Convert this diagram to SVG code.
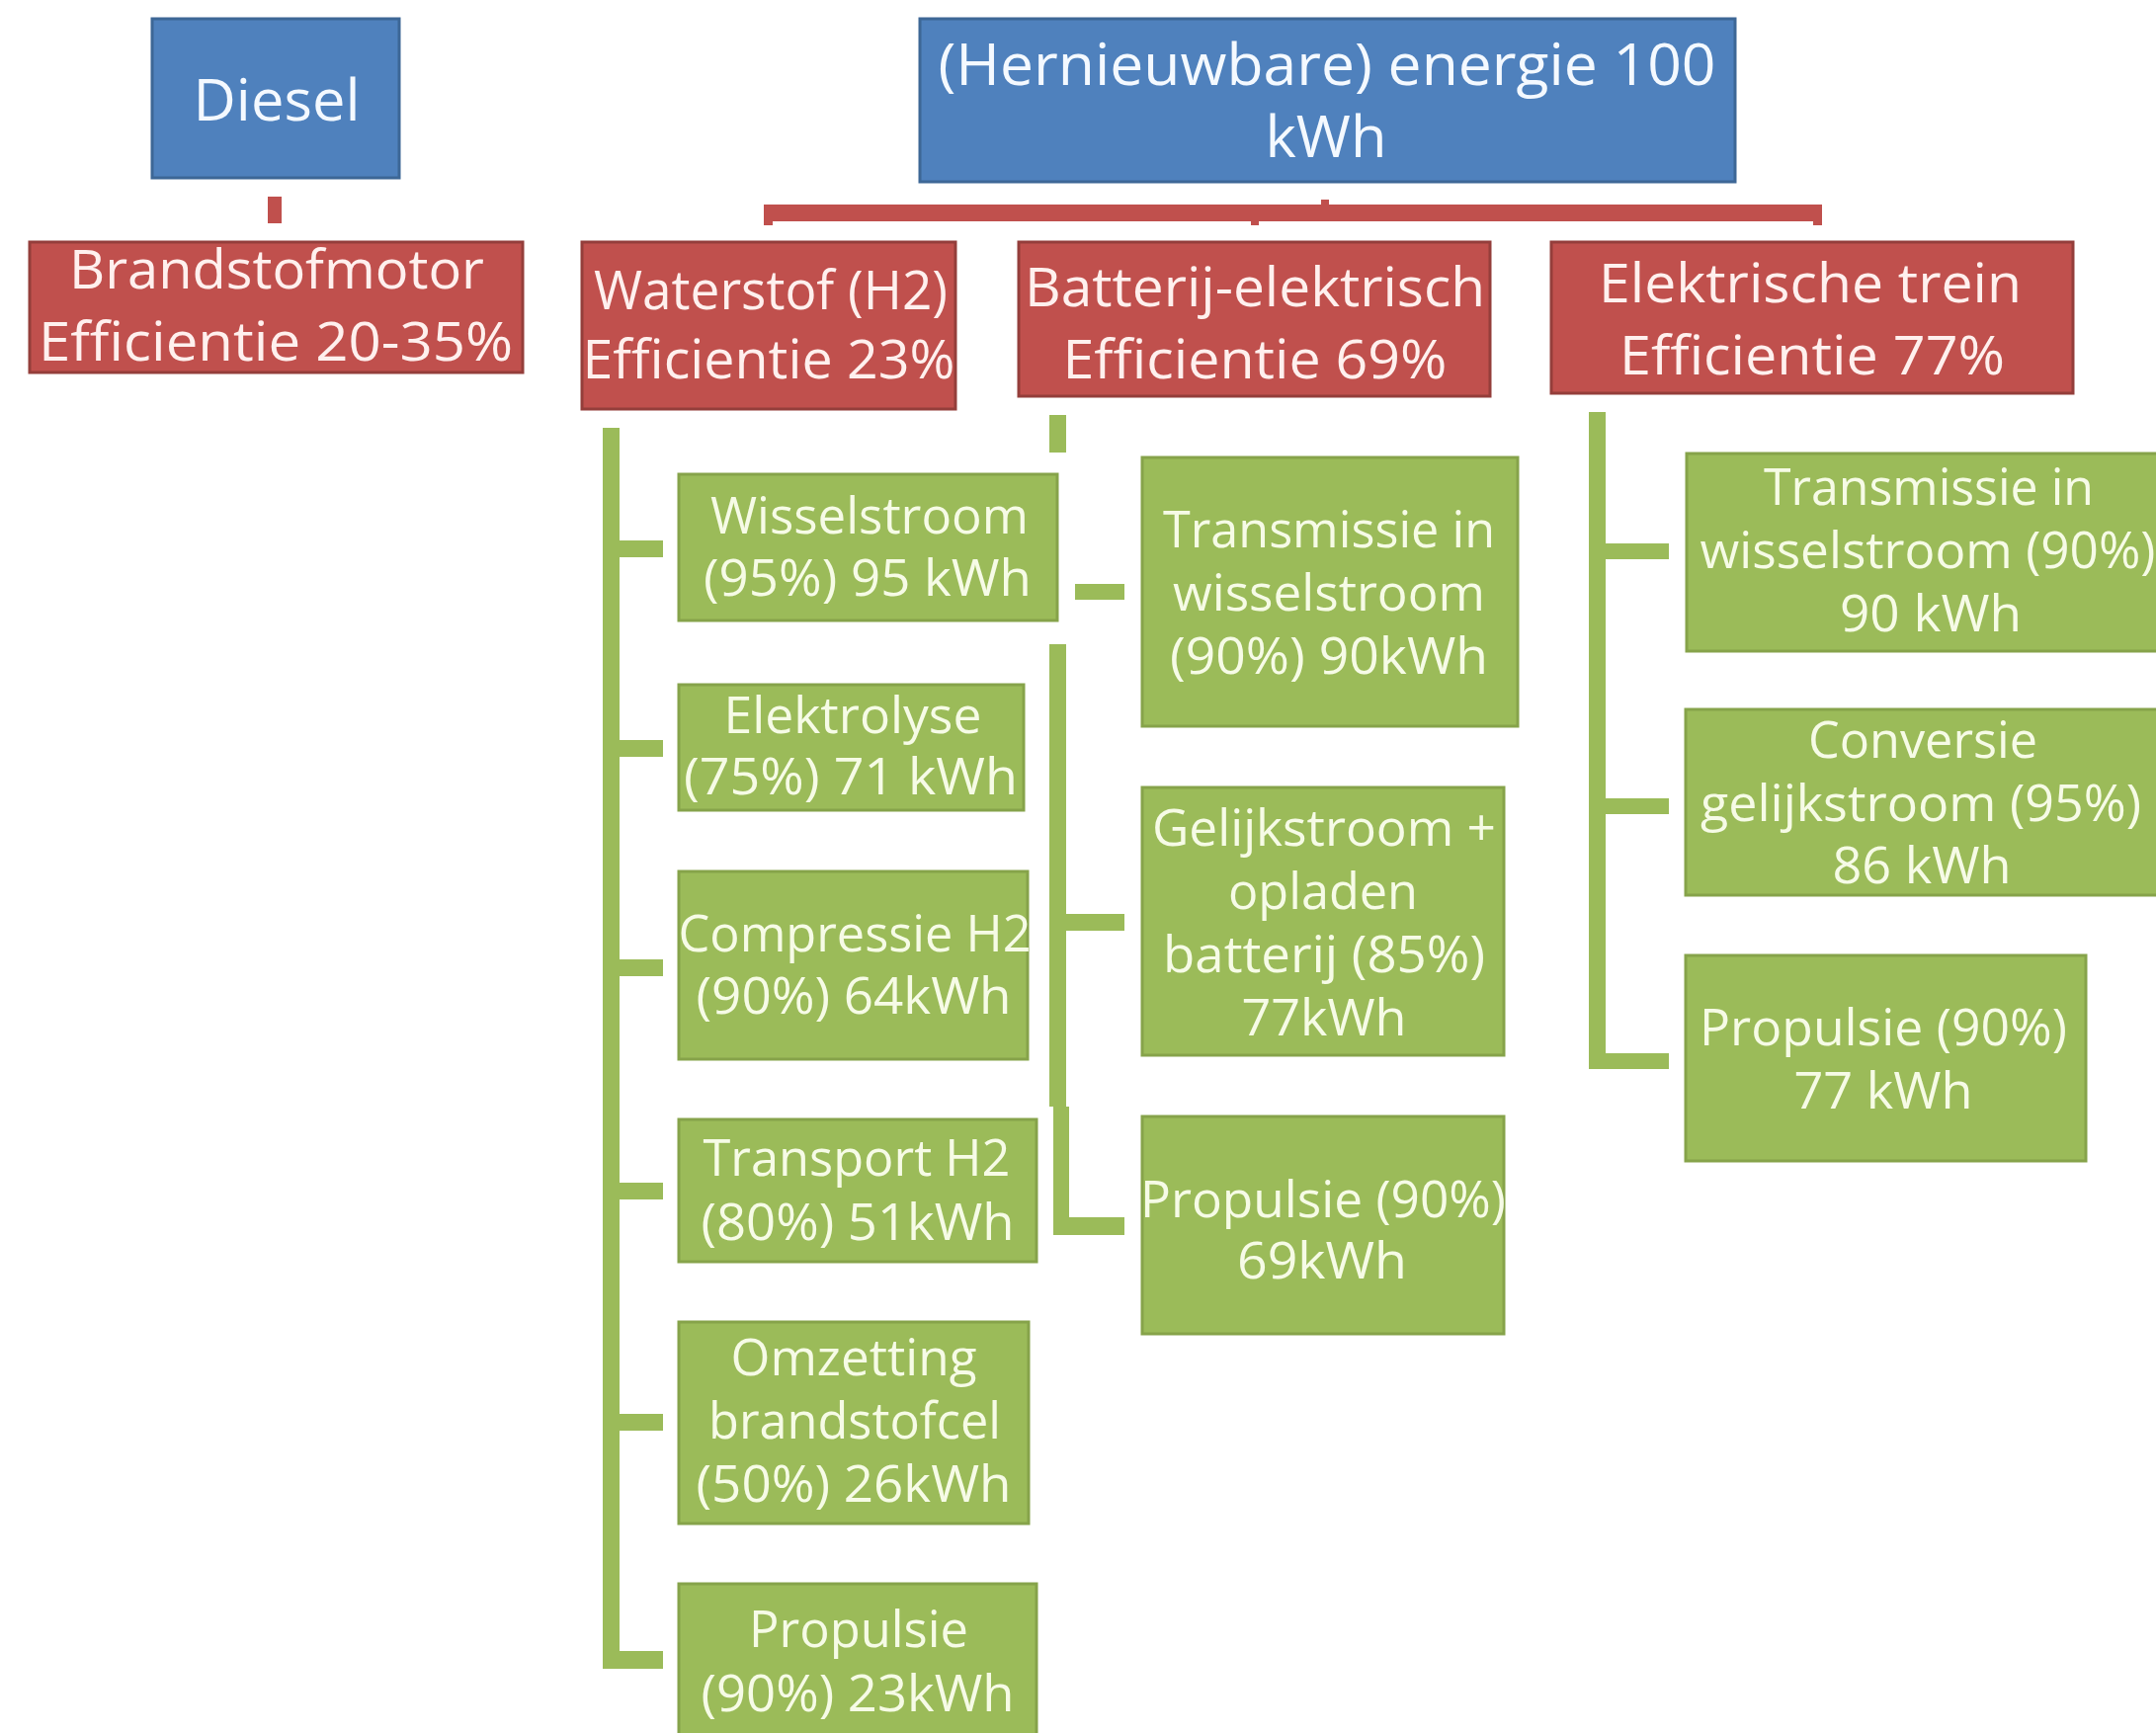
<svg xmlns="http://www.w3.org/2000/svg" width="2182" height="1754" viewBox="0 0 2182 1754">
<style>
.blue{fill:#4F81BD;stroke:#3D6796;stroke-width:3}
.red{fill:#C0504D;stroke:#943E3B;stroke-width:3}
.green{fill:#9BBB59;stroke:#86A34A;stroke-width:3}
.cg{fill:#9BBB59}
.cr{fill:#C0504D}
text{font-family:"Open Sans","Liberation Sans",sans-serif;text-anchor:middle}
.tb{font-size:58px;fill:#F4F9FF}
.tr{font-size:55px;fill:#FFF0EE}
.tg{font-size:52px;fill:#F6FBE6}
</style>
<rect width="2182" height="1754" fill="#FFFFFF"/>
<g id="connectors">
<rect class="cr" x="271" y="199" width="14" height="27"/>
<rect class="cr" x="773" y="207" width="1071" height="17" rx="3"/>
<rect class="cr" x="773" y="207" width="9" height="21"/>
<rect class="cr" x="1835" y="207" width="9" height="21"/>
<rect class="cr" x="1337" y="202" width="8" height="6"/>
<rect class="cr" x="1266" y="223" width="8" height="5"/>
<rect class="cg" x="610" y="433" width="17" height="1256"/>
<rect class="cg" x="627" y="547" width="44" height="17"/>
<rect class="cg" x="627" y="749" width="44" height="17"/>
<rect class="cg" x="627" y="971" width="44" height="17"/>
<rect class="cg" x="627" y="1197" width="44" height="17"/>
<rect class="cg" x="627" y="1431" width="44" height="17"/>
<rect class="cg" x="610" y="1671" width="61" height="18"/>
<rect class="cg" x="1062" y="420" width="17" height="38"/>
<rect class="cg" x="1088" y="591" width="50" height="16"/>
<path class="cg" d="M1062 652 H1079 V1120 H1082 V1232 H1138 V1250 H1066 V1120 H1062 Z"/>
<rect class="cg" x="1079" y="925" width="59" height="17"/>
<rect class="cg" x="1608" y="417" width="17" height="665"/>
<rect class="cg" x="1625" y="550" width="64" height="16"/>
<rect class="cg" x="1625" y="808" width="64" height="16"/>
<rect class="cg" x="1608" y="1066" width="81" height="16"/>
</g>
<g id="diesel">
<rect class="blue" x="154" y="19" width="250" height="161"/>
<text class="tb" x="280" y="122" textLength="169" lengthAdjust="spacingAndGlyphs">Diesel</text>
</g>
<g id="hernieuwbare">
<rect class="blue" x="931" y="19" width="825" height="165"/>
<text class="tb" x="1343" y="86" textLength="787" lengthAdjust="spacingAndGlyphs">(Hernieuwbare) energie 100</text>
<text class="tb" x="1342" y="159" textLength="123" lengthAdjust="spacingAndGlyphs">kWh</text>
</g>
<g id="brandstofmotor">
<rect class="red" x="30" y="245" width="499" height="132"/>
<text class="tr" x="280" y="292" textLength="420" lengthAdjust="spacingAndGlyphs">Brandstofmotor</text>
<text class="tr" x="279" y="365" textLength="480" lengthAdjust="spacingAndGlyphs">Efficientie 20-35%</text>
</g>
<g id="waterstof">
<rect class="red" x="589" y="245" width="378" height="169"/>
<text class="tr" x="780" y="313" textLength="358" lengthAdjust="spacingAndGlyphs">Waterstof (H2)</text>
<text class="tr" x="778" y="383" textLength="377" lengthAdjust="spacingAndGlyphs">Efficientie 23%</text>
</g>
<g id="batterij">
<rect class="red" x="1031" y="245" width="477" height="156"/>
<text class="tr" x="1270" y="310" textLength="466" lengthAdjust="spacingAndGlyphs">Batterij-elektrisch</text>
<text class="tr" x="1270" y="383" textLength="389" lengthAdjust="spacingAndGlyphs">Efficientie 69%</text>
</g>
<g id="trein">
<rect class="red" x="1570" y="245" width="528" height="153"/>
<text class="tr" x="1832" y="306" textLength="428" lengthAdjust="spacingAndGlyphs">Elektrische trein</text>
<text class="tr" x="1834" y="379" textLength="390" lengthAdjust="spacingAndGlyphs">Efficientie 77%</text>
</g>
<g id="h2-wisselstroom">
<rect class="green" x="687" y="480" width="383" height="148"/>
<text class="tg" x="880" y="540" textLength="322" lengthAdjust="spacingAndGlyphs">Wisselstroom</text>
<text class="tg" x="878" y="603" textLength="332" lengthAdjust="spacingAndGlyphs">(95%) 95 kWh</text>
</g>
<g id="h2-elektrolyse">
<rect class="green" x="687" y="693" width="349" height="127"/>
<text class="tg" x="863" y="742" textLength="261" lengthAdjust="spacingAndGlyphs">Elektrolyse</text>
<text class="tg" x="861" y="804" textLength="338" lengthAdjust="spacingAndGlyphs">(75%) 71 kWh</text>
</g>
<g id="h2-compressie">
<rect class="green" x="687" y="882" width="353" height="190"/>
<text class="tg" x="865" y="963" textLength="357" lengthAdjust="spacingAndGlyphs">Compressie H2</text>
<text class="tg" x="864" y="1026" textLength="319" lengthAdjust="spacingAndGlyphs">(90%) 64kWh</text>
</g>
<g id="h2-transport">
<rect class="green" x="687" y="1133" width="362" height="144"/>
<text class="tg" x="867" y="1190" textLength="311" lengthAdjust="spacingAndGlyphs">Transport H2</text>
<text class="tg" x="868" y="1255" textLength="317" lengthAdjust="spacingAndGlyphs">(80%) 51kWh</text>
</g>
<g id="h2-omzetting">
<rect class="green" x="687" y="1338" width="354" height="204"/>
<text class="tg" x="864" y="1392" textLength="249" lengthAdjust="spacingAndGlyphs">Omzetting</text>
<text class="tg" x="865" y="1456" textLength="296" lengthAdjust="spacingAndGlyphs">brandstofcel</text>
<text class="tg" x="864" y="1520" textLength="319" lengthAdjust="spacingAndGlyphs">(50%) 26kWh</text>
</g>
<g id="h2-propulsie">
<rect class="green" x="687" y="1603" width="362" height="160"/>
<text class="tg" x="869" y="1667" textLength="222" lengthAdjust="spacingAndGlyphs">Propulsie</text>
<text class="tg" x="868" y="1732" textLength="317" lengthAdjust="spacingAndGlyphs">(90%) 23kWh</text>
</g>
<g id="bat-transmissie">
<rect class="green" x="1156" y="463" width="380" height="272"/>
<text class="tg" x="1345" y="554" textLength="336" lengthAdjust="spacingAndGlyphs">Transmissie in</text>
<text class="tg" x="1345" y="618" textLength="316" lengthAdjust="spacingAndGlyphs">wisselstroom</text>
<text class="tg" x="1345" y="682" textLength="322" lengthAdjust="spacingAndGlyphs">(90%) 90kWh</text>
</g>
<g id="bat-gelijkstroom">
<rect class="green" x="1156" y="797" width="366" height="271"/>
<text class="tg" x="1340" y="856" textLength="348" lengthAdjust="spacingAndGlyphs">Gelijkstroom +</text>
<text class="tg" x="1339" y="920" textLength="192" lengthAdjust="spacingAndGlyphs">opladen</text>
<text class="tg" x="1340" y="984" textLength="326" lengthAdjust="spacingAndGlyphs">batterij (85%)</text>
<text class="tg" x="1340" y="1048" textLength="167" lengthAdjust="spacingAndGlyphs">77kWh</text>
</g>
<g id="bat-propulsie">
<rect class="green" x="1156" y="1130" width="366" height="220"/>
<text class="tg" x="1339" y="1232" textLength="370" lengthAdjust="spacingAndGlyphs">Propulsie (90%)</text>
<text class="tg" x="1338" y="1294" textLength="172" lengthAdjust="spacingAndGlyphs">69kWh</text>
</g>
<g id="trein-transmissie">
<rect class="green" x="1707" y="459" width="490" height="200"/>
<text class="tg" x="1952" y="511" textLength="334" lengthAdjust="spacingAndGlyphs">Transmissie in</text>
<text class="tg" x="1951" y="575" textLength="461" lengthAdjust="spacingAndGlyphs">wisselstroom (90%)</text>
<text class="tg" x="1954" y="639" textLength="184" lengthAdjust="spacingAndGlyphs">90 kWh</text>
</g>
<g id="trein-conversie">
<rect class="green" x="1706" y="718" width="490" height="188"/>
<text class="tg" x="1946" y="767" textLength="232" lengthAdjust="spacingAndGlyphs">Conversie</text>
<text class="tg" x="1944" y="831" textLength="446" lengthAdjust="spacingAndGlyphs">gelijkstroom (95%)</text>
<text class="tg" x="1945" y="894" textLength="181" lengthAdjust="spacingAndGlyphs">86 kWh</text>
</g>
<g id="trein-propulsie">
<rect class="green" x="1706" y="967" width="405" height="208"/>
<text class="tg" x="1906" y="1058" textLength="372" lengthAdjust="spacingAndGlyphs">Propulsie (90%)</text>
<text class="tg" x="1906" y="1122" textLength="181" lengthAdjust="spacingAndGlyphs">77 kWh</text>
</g>
</svg>
